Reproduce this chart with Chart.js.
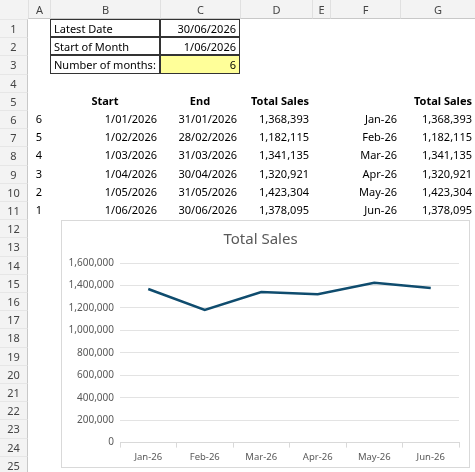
<!DOCTYPE html>
<html>
<head>
<meta charset="utf-8">
<script src="https://cdn.jsdelivr.net/npm/chart.js@4"></script>
<style>
body { margin: 0; background: #fff; font-family: "Noto Sans", sans-serif; font-size: 11px; color: #000; }
#sheet { position: relative; width: 475px; height: 472px; overflow: hidden; }
.c { position: absolute; box-sizing: border-box; white-space: nowrap; line-height: 18px; padding: 0 3px; }
.hd { background: #f3f3f3; color: #444; text-align: center; }
.r { text-align: right; }
.b { font-weight: bold; }
#chartBox { position: absolute; left: 61px; top: 220px; width: 409px; height: 248px; background: #fff; border: 1px solid #d9d9d9; box-sizing: border-box; }
</style>
</head>
<body>
<div id="sheet">
  <div id="chartBox"><canvas id="salesChart"></canvas></div>
</div>
<script>
const colNames = ["A", "B", "C", "D", "E", "F", "G"];
const colEdges = [28, 50, 160, 240, 312, 330, 400, 475];
const headerH = 19;
const rowH = 18.2;

const startDates = ["1/01/2026", "1/02/2026", "1/03/2026", "1/04/2026", "1/05/2026", "1/06/2026"];
const endDates = ["31/01/2026", "28/02/2026", "31/03/2026", "30/04/2026", "31/05/2026", "30/06/2026"];
const monthIndex = [6, 5, 4, 3, 2, 1];
const months = ["Jan-26", "Feb-26", "Mar-26", "Apr-26", "May-26", "Jun-26"];
const totalSales = [1368393, 1182115, 1341135, 1320921, 1423304, 1378095];
const yTicks = [0, 200000, 400000, 600000, 800000, 1000000, 1200000, 1400000, 1600000];

const sheet = document.getElementById("sheet");
function cell(text, col, row, cls, extra) {
    const d = document.createElement("div");
    d.className = "c " + (cls || "");
    d.style.left = colEdges[col] + "px";
    d.style.width = (colEdges[col + 1] - colEdges[col]) + "px";
    d.style.top = (headerH + (row - 1) * rowH) + "px";
    d.style.height = rowH + "px";
    d.textContent = text;
    if (extra) Object.assign(d.style, extra);
    sheet.appendChild(d);
}

// header row and row numbers
const corner = document.createElement("div");
corner.className = "c hd";
Object.assign(corner.style, { left: "0px", top: "0px", width: "28px", height: headerH + "px" });
sheet.appendChild(corner);
colNames.forEach((n, i) => {
    const d = document.createElement("div");
    d.className = "c hd";
    Object.assign(d.style, { left: colEdges[i] + "px", top: "0px", width: (colEdges[i + 1] - colEdges[i]) + "px", height: headerH + "px", lineHeight: headerH + "px", borderLeft: "1px solid #e0e0e0", borderBottom: "1px solid #c8c8c8" });
    d.textContent = n;
    sheet.appendChild(d);
});
for (let r = 1; r <= 25; r++) {
    const d = document.createElement("div");
    d.className = "c hd";
    Object.assign(d.style, { left: "0px", top: (headerH + (r - 1) * rowH) + "px", width: "28px", height: rowH + "px", borderRight: "1px solid #c8c8c8", borderTop: "1px solid #e6e6e6" });
    d.textContent = r;
    sheet.appendChild(d);
}

const box = { border: "1px solid #333" };
cell("Latest Date", 1, 1, "", box);
cell("30/06/2026", 2, 1, "r", box);
cell("Start of Month", 1, 2, "", box);
cell("1/06/2026", 2, 2, "r", box);
cell("Number of months:", 1, 3, "", box);
cell("6", 2, 3, "r", Object.assign({ background: "#ffff99" }, box));

cell("Start", 1, 5, "b", { textAlign: "center" });
cell("End", 2, 5, "b", { textAlign: "center" });
cell("Total Sales", 3, 5, "b r");
cell("Total Sales", 6, 5, "b r");
const fmt = v => v.toLocaleString("en-US");
months.forEach((m, i) => {
    cell(String(monthIndex[i]), 0, 6 + i, "", { textAlign: "center" });
    cell(startDates[i], 1, 6 + i, "r");
    cell(endDates[i], 2, 6 + i, "r");
    cell(fmt(totalSales[i]), 3, 6 + i, "r");
    cell(m, 5, 6 + i, "r");
    cell(fmt(totalSales[i]), 6, 6 + i, "r");
});

new Chart(document.getElementById("salesChart"), {
    type: "line",
    data: {
        labels: months,
        datasets: [{ label: "Total Sales", data: totalSales, borderColor: "#0f4c6e", borderWidth: 2.5, pointRadius: 0, tension: 0 }]
    },
    options: {
        responsive: true, maintainAspectRatio: false, animation: false,
        layout: { padding: { left: 0, right: 10, top: 2, bottom: 0 } },
        plugins: {
            legend: { display: false },
            tooltip: { enabled: false },
            title: { display: true, text: "Total Sales", color: "#595959", font: { family: "'Noto Sans', sans-serif", size: 15, weight: "normal" }, padding: { top: 8, bottom: 14 } }
        },
        scales: {
            x: {
                offset: true,
                grid: { display: true, drawOnChartArea: false, offset: true, tickLength: 5, color: "#d9d9d9" },
                border: { color: "#d9d9d9" },
                ticks: { color: "#595959", font: { family: "'Noto Sans', sans-serif", size: 9.5 }, padding: 4, maxRotation: 0 }
            },
            y: {
                min: 0, max: yTicks[yTicks.length - 1],
                afterBuildTicks: s => { s.ticks = yTicks.map(v => ({ value: v })); },
                afterFit: s => { s.width = 58; },
                grid: { color: "#e3e3e3", drawTicks: false },
                border: { display: false },
                ticks: { color: "#595959", font: { family: "'Noto Sans', sans-serif", size: 10 }, padding: 6, callback: v => v.toLocaleString("en-US") }
            }
        }
    }
});
</script>
</body>
</html>
